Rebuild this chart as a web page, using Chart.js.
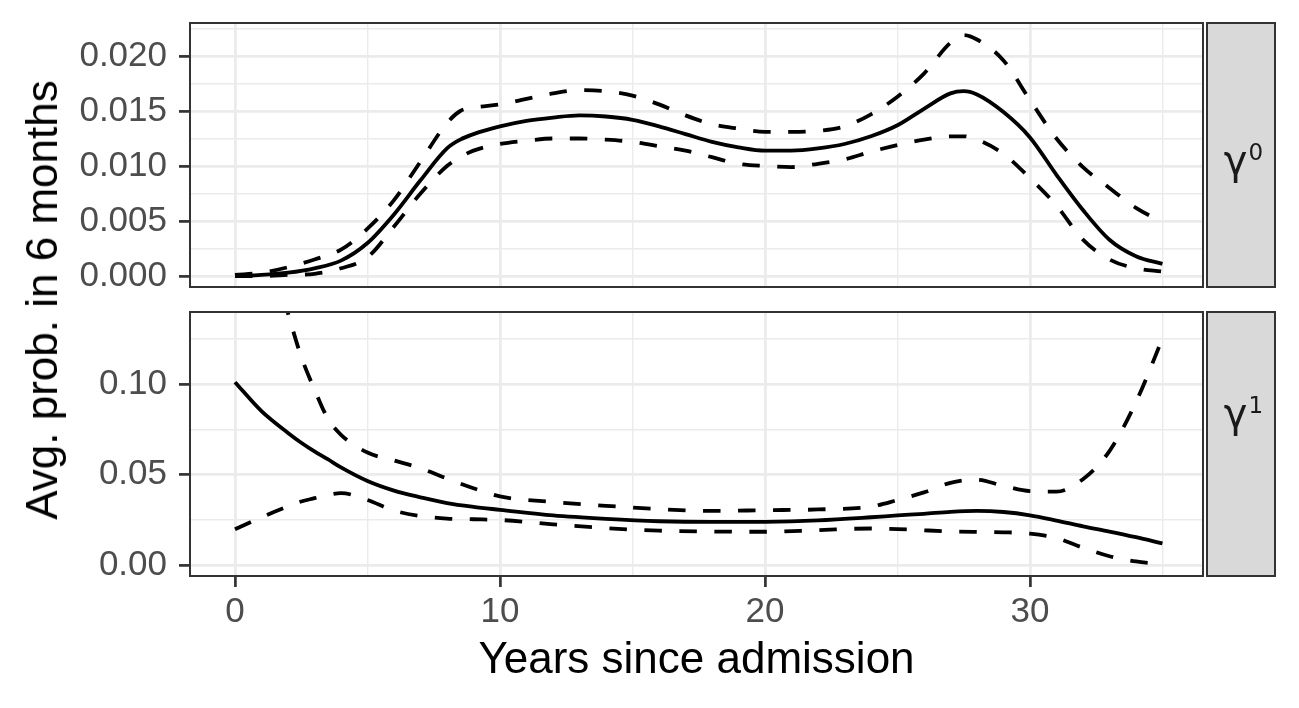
<!DOCTYPE html>
<html>
<head>
<meta charset="utf-8">
<script src="https://cdn.jsdelivr.net/npm/chart.js@4.4.1/dist/chart.umd.min.js"></script>
<style>
  body { margin: 0; background: #fff; }
  #wrap { position: relative; width: 1299px; height: 708px; overflow: hidden; background: #fff; }
  canvas { position: absolute; left: 0; }
  .ytitle {
    position: absolute; left: 42px; top: 300px;
    transform: translate(-50%, -50%) rotate(-90deg);
    font: 44px "Liberation Sans", Arial, sans-serif; line-height: 1;
    white-space: nowrap; color: #000;
  }
  .strip {
    position: absolute; left: 1206px; width: 70px; height: 266px;
    box-sizing: border-box; background: #D9D9D9; border: 2px solid #333;
  }
  .strip-label {
    position: absolute; left: 1206px; width: 70px; padding-left: 5px; box-sizing: border-box;
    text-align: center; font: 40px "DejaVu Sans", sans-serif; line-height: 40px; color: #1A1A1A;
  }
  .strip-label .sup { font-size: 23px; line-height: 0; position: relative; top: -14px; margin-left: 1px; }
</style>
</head>
<body>
<div id="wrap">
  <canvas id="top-panel" width="1299" height="300" style="top:0"></canvas>
  <canvas id="bottom-panel" width="1299" height="408" style="top:300px"></canvas>
  <div class="ytitle">Avg. prob. in 6 months</div>
  <div class="strip" style="top:22px"></div>
  <div class="strip" style="top:311px"></div>
  <div class="strip-label" style="top:140px">γ<span class="sup">0</span></div>
  <div class="strip-label" style="top:393px">γ<span class="sup">1</span></div>
</div>
<script>
// data
const topYears = [0, 1, 2, 3, 4, 5, 6, 7, 8, 8.5, 9, 10, 11, 12, 13, 14, 15, 16, 17, 18, 19,
  20, 21, 22, 23, 24, 25, 26, 27, 27.5, 28, 29, 30, 31, 32, 33, 34, 35];
const topMean = [0.0000, 0.0001, 0.0003, 0.0007, 0.0014, 0.0030, 0.0056, 0.0087, 0.0116, 0.0124, 0.0129,
  0.0136, 0.0141, 0.0144, 0.0146, 0.0145, 0.0142, 0.0136, 0.0129, 0.0122, 0.0117,
  0.0114, 0.0114, 0.0116, 0.0120, 0.0127, 0.0137, 0.0152, 0.0166, 0.0168, 0.0165,
  0.0149, 0.0126, 0.0092, 0.0060, 0.0033, 0.0018, 0.0011];
const topUpper = [0.0001, 0.0003, 0.0008, 0.0015, 0.0024, 0.0043, 0.0069, 0.0104, 0.0139, 0.0150, 0.0153,
  0.0156, 0.0161, 0.0166, 0.0169, 0.0168, 0.0164, 0.0156, 0.0146, 0.0138, 0.0134,
  0.0131, 0.0131, 0.0132, 0.0136, 0.0147, 0.0163, 0.0184, 0.0212, 0.0219, 0.0215,
  0.0196, 0.0160, 0.0125, 0.0099, 0.0080, 0.0062, 0.0049];
const topLower = [0.0000, 0.0000, 0.0001, 0.0002, 0.0007, 0.0017, 0.0045, 0.0075, 0.0100, 0.0108, 0.0114,
  0.0120, 0.0123, 0.0125, 0.0125, 0.0124, 0.0122, 0.0118, 0.0114, 0.0108, 0.0102,
  0.0100, 0.0099, 0.0102, 0.0106, 0.0113, 0.0119, 0.0124, 0.0127, 0.0127, 0.0124,
  0.0111, 0.0089, 0.0064, 0.0033, 0.0015, 0.0007, 0.0004];

const bottomYears = [0, 1, 2, 2.5, 3, 3.5, 4, 5, 6, 7, 8, 9, 10, 12, 14, 16, 18, 20, 22, 24,
  25, 26, 27, 28, 29, 30, 31, 32, 33, 34, 35];
const bottomMean = [0.1010, 0.0850, 0.0730, 0.0676, 0.0628, 0.0585, 0.0540, 0.0465, 0.0412, 0.0375,
  0.0343, 0.0322, 0.0306, 0.0275, 0.0256, 0.0243, 0.0239, 0.0240, 0.0248, 0.0265,
  0.0275, 0.0284, 0.0295, 0.0300, 0.0294, 0.0276, 0.0247, 0.0215, 0.0186, 0.0155, 0.0121];
const bottomUpper = [0.260, 0.190, 0.139, 0.115, 0.097, 0.081, 0.072, 0.0622, 0.0578, 0.0535,
  0.0478, 0.0425, 0.0380, 0.0349, 0.0328, 0.0310, 0.0300, 0.0304, 0.0308, 0.0324,
  0.0360, 0.0402, 0.0455, 0.0472, 0.0438, 0.0409, 0.0406, 0.0475, 0.0630, 0.0900, 0.1250];
const bottomLower = [0.0199, 0.0265, 0.0325, 0.0352, 0.0370, 0.0388, 0.0398, 0.0360, 0.0302, 0.0272,
  0.0258, 0.0254, 0.0250, 0.0226, 0.0205, 0.0191, 0.0186, 0.0185, 0.0194, 0.0203,
  0.0200, 0.0193, 0.0187, 0.0184, 0.0182, 0.0175, 0.0150, 0.0097, 0.0050, 0.0021, 0.0007];

// ticks
const xMajor = [0, 10, 20, 30];
const xMinor = [5, 15, 25, 35];
const xTickLabels = ['0', '10', '20', '30'];
const topMajor = [0, 0.005, 0.01, 0.015, 0.02];
const topMinor = [0.0025, 0.0075, 0.0125, 0.0175, 0.0225];
const topTickLabels = ['0.000', '0.005', '0.010', '0.015', '0.020'];
const bottomMajor = [0, 0.05, 0.1];
const bottomMinor = [0.025, 0.075, 0.125];
const bottomTickLabels = ['0.00', '0.05', '0.10'];

const fontFamily = '"Liberation Sans", Arial, sans-serif';

function majorIndex(list, v) {
  return list.findIndex(m => Math.abs(m - v) < 1e-9);
}

function series(xs, ys, dashed) {
  return {
    data: xs.map((x, i) => ({ x: x, y: ys[i] })),
    borderColor: '#000000',
    borderWidth: 3.8,
    borderDash: dashed ? [17.5, 17.5] : [],
    pointRadius: 0,
    cubicInterpolationMode: 'monotone',
    fill: false,
    clip: 0
  };
}

function gridScale(major, minor, labels, o) {
  return {
    type: 'linear',
    min: o.min,
    max: o.max,
    afterBuildTicks: s => {
      s.ticks = major.concat(minor).sort((a, b) => a - b).map(v => ({ value: v }));
    },
    afterFit: s => {
      if (o.width !== undefined) { s.width = o.width; s.paddingTop = 0; s.paddingBottom = 0; }
      if (o.height !== undefined) { s.height = o.height; s.paddingLeft = 0; s.paddingRight = 0; }
    },
    grid: {
      color: '#EBEBEB',
      lineWidth: c => (c.tick && majorIndex(major, c.tick.value) >= 0) ? 2.8 : 1.4,
      drawTicks: o.drawTicks,
      tickLength: 11,
      tickWidth: 2.7,
      tickColor: c => (c.tick && majorIndex(major, c.tick.value) >= 0) ? '#333333' : 'rgba(0,0,0,0)'
    },
    border: { display: false },
    ticks: {
      display: o.showLabels,
      autoSkip: false,
      maxRotation: 0,
      padding: o.padding,
      color: '#4D4D4D',
      font: { family: fontFamily, size: 35 },
      callback: v => {
        const i = majorIndex(major, v);
        return i >= 0 ? labels[i] : '';
      }
    },
    title: o.title || { display: false }
  };
}

// draws the ggplot-like panel frame
const panelBorder = {
  id: 'panelBorder',
  afterDatasetsDraw(chart) {
    const { ctx, chartArea: a } = chart;
    ctx.save();
    ctx.strokeStyle = '#333333';
    ctx.lineWidth = 2;
    ctx.strokeRect(a.left, a.top, a.right - a.left, a.bottom - a.top);
    ctx.restore();
  }
};

const X_MIN = -1.698, X_MAX = 36.53;

new Chart(document.getElementById('top-panel'), {
  type: 'line',
  data: {
    datasets: [
      series(topYears, topUpper, true),
      series(topYears, topLower, true),
      series(topYears, topMean, false)
    ]
  },
  options: {
    responsive: false,
    animation: false,
    devicePixelRatio: 1,
    layout: { padding: { left: 0, right: 96, top: 23, bottom: 13 } },
    plugins: { legend: { display: false }, tooltip: { enabled: false } },
    scales: {
      x: gridScale(xMajor, xMinor, xTickLabels, { min: X_MIN, max: X_MAX, height: 0, drawTicks: false, showLabels: false, padding: 0 }),
      y: gridScale(topMajor, topMinor, topTickLabels, { min: -0.0010, max: 0.0230, width: 190, drawTicks: true, showLabels: true, padding: 12 })
    }
  },
  plugins: [panelBorder]
});

new Chart(document.getElementById('bottom-panel'), {
  type: 'line',
  data: {
    datasets: [
      series(bottomYears, bottomUpper, true),
      series(bottomYears, bottomLower, true),
      series(bottomYears, bottomMean, false)
    ]
  },
  options: {
    responsive: false,
    animation: false,
    devicePixelRatio: 1,
    layout: { padding: { left: 0, right: 96, top: 12, bottom: 0 } },
    plugins: { legend: { display: false }, tooltip: { enabled: false } },
    scales: {
      x: gridScale(xMajor, xMinor, xTickLabels, {
        min: X_MIN, max: X_MAX, height: 132, drawTicks: true, showLabels: true, padding: 4,
        title: {
          display: true,
          text: 'Years since admission',
          color: '#000000',
          font: { family: fontFamily, size: 44, lineHeight: 1.2 },
          padding: { top: 0, bottom: 21 }
        }
      }),
      y: gridScale(bottomMajor, bottomMinor, bottomTickLabels, { min: -0.0059, max: 0.1397, width: 190, drawTicks: true, showLabels: true, padding: 12 })
    }
  },
  plugins: [panelBorder]
});
</script>
</body>
</html>
